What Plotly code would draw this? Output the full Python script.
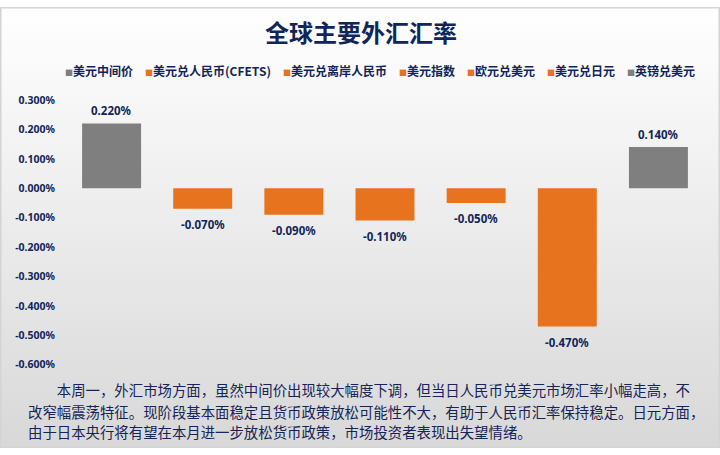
import plotly.graph_objects as go

# ---------------- data ----------------
title_text = "全球主要外汇汇率"
series_names = ["美元中间价", "美元兑人民币(CFETS)", "美元兑离岸人民币", "美元指数",
                "欧元兑美元", "美元兑日元", "英镑兑美元"]
series_values = [0.22, -0.07, -0.09, -0.11, -0.05, -0.47, 0.14]   # percent
series_colors = ["#7f7f7f", "#e8731f", "#e8731f", "#e8731f", "#e8731f", "#e8731f", "#7f7f7f"]
y_ticks = [0.3, 0.2, 0.1, 0.0, -0.1, -0.2, -0.3, -0.4, -0.5, -0.6]
y_tick_labels = ["0.300%", "0.200%", "0.100%", "0.000%", "-0.100%", "-0.200%",
                 "-0.300%", "-0.400%", "-0.500%", "-0.600%"]
comment_lines = [
    "　　本周一，外汇市场方面，虽然中间价出现较大幅度下调，但当日人民币兑美元市场汇率小幅走高，不",
    "改窄幅震荡特征。现阶段基本面稳定且货币政策放松可能性不大，有助于人民币汇率保持稳定。日元方面，",
    "由于日本央行将有望在本月进一步放松货币政策，市场投资者表现出失望情绪。",
]

W, H = 720, 455
NAVY = "#10265a"
CJK = "Noto Sans CJK SC"
NUM = "Noto Sans, Noto Sans CJK SC"

fig = go.Figure()

# full-figure background with vertical gradient
fig.add_trace(go.Scatter(
    x=[0, 1, 1, 0, 0], y=[0, 0, 1, 1, 0], mode="lines", fill="toself",
    line=dict(width=0, color="rgba(0,0,0,0)"),
    fillgradient=dict(type="vertical", colorscale=[[0, "#d8d8d8"], [1, "#ffffff"]]),
    hoverinfo="skip", showlegend=False, xaxis="x", yaxis="y"))

# bars, one series each
for name, val, col in zip(series_names, series_values, series_colors):
    fig.add_trace(go.Bar(
        x=[name], y=[val], name=name, marker=dict(color=col, line=dict(width=0)),
        width=0.647, showlegend=False, xaxis="x2", yaxis="y2",
        hovertemplate="%{x}: %{y:.3f}%<extra></extra>"))

annotations = []
# data labels
for name, val in zip(series_names, series_values):
    annotations.append(dict(
        x=name, y=val, xref="x2", yref="y2", text=f"{val:.3f}%", showarrow=False,
        yanchor="middle", yshift=13 if val >= 0 else -16,
        font=dict(family=NUM, size=11.5, color=NAVY, weight="bold")))

# custom legend (one line)
legend_parts = []
for name, col in zip(series_names, series_colors):
    legend_parts.append(f'<span style="color:{col};font-size:8px">■</span>{name}')
annotations.append(dict(
    x=380 / W, y=1 - 66 / H, xref="paper", yref="paper", xanchor="center", yanchor="middle",
    text="　".join(legend_parts), showarrow=False,
    font=dict(family=CJK, size=12, color=NAVY, weight="bold")))

# title
annotations.append(dict(
    x=361 / W, y=1 - 25 / H, xref="paper", yref="paper", xanchor="center", yanchor="middle",
    text=title_text, showarrow=False,
    font=dict(family=CJK, size=24, color=NAVY, weight="bold")))

# commentary
line_y = [395, 417, 438]
for line, py in zip(comment_lines, line_y):
    annotations.append(dict(
        x=26 / W, y=1 - py / H, xref="paper", yref="paper", xanchor="left", yanchor="middle",
        text=line, showarrow=False, align="left",
        font=dict(family=CJK, size=14.4, color="#172457")))

fig.update_layout(
    width=W, height=H, margin=dict(l=0, r=0, t=0, b=0),
    paper_bgcolor="#ffffff", plot_bgcolor="rgba(0,0,0,0)",
    barmode="overlay", showlegend=False,
    xaxis=dict(domain=[0, 1], range=[0, 1], visible=False, fixedrange=True),
    yaxis=dict(domain=[0, 1], range=[0, 1], visible=False, fixedrange=True),
    xaxis2=dict(domain=[66 / W, 704 / W], anchor="y2", type="category",
                categoryarray=series_names, range=[-0.5, 6.5],
                showticklabels=False, showgrid=False, zeroline=False, showline=False),
    yaxis2=dict(domain=[86 / H, 359 / H], anchor="x2", range=[-0.6, 0.3],
                tickmode="array", tickvals=y_ticks, ticktext=y_tick_labels,
                showgrid=False, zeroline=False, showline=False, ticks="",
                ticklabelstandoff=10,
                tickfont=dict(family=NUM, size=10.5, color=NAVY, weight="bold")),
    annotations=annotations,
    shapes=[dict(type="rect", xref="paper", yref="paper",
                 x0=0.75 / W, x1=1 - 0.75 / W, y0=0.75 / H, y1=1 - 0.75 / H,
                 line=dict(color="#d4d4d4", width=1.5), layer="above")],
)

fig.write_html("out.html", config={"displayModeBar": False},
               post_script="document.body.style.margin='0';document.body.style.overflow='hidden';")
